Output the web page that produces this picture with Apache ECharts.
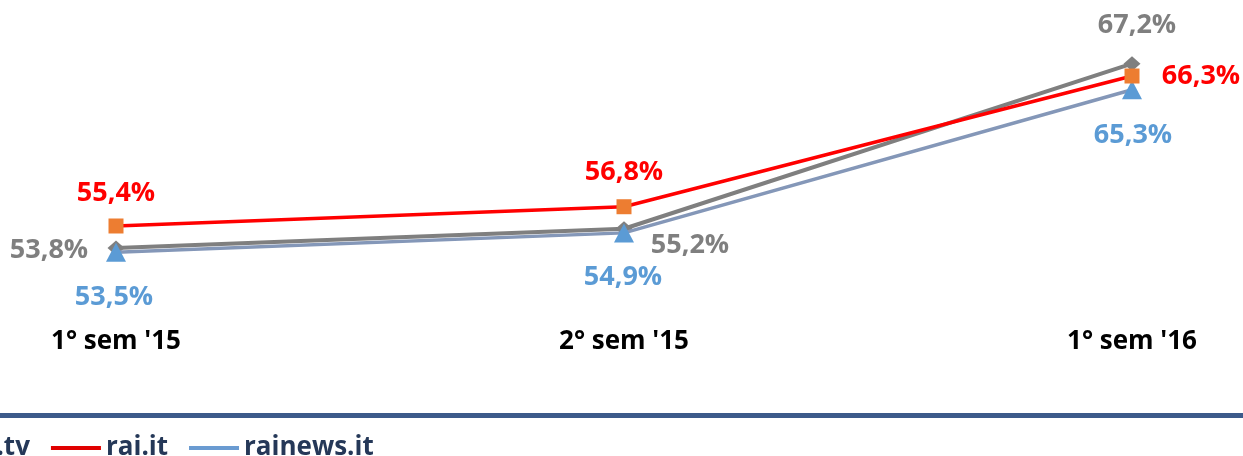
<!DOCTYPE html>
<html>
<head>
<meta charset="utf-8">
<script src="https://cdn.jsdelivr.net/npm/echarts@6/dist/echarts.min.js"></script>
<style>
  html, body { margin: 0; padding: 0; background: #ffffff; }
  #chart { width: 1243px; height: 456px; }
</style>
</head>
<body>
<div id="chart"></div>
<script>
// Semesters on the x axis
const periods = ["1° sem '15", "2° sem '15", "1° sem '16"];

// Share (%) per site and semester
const raiTv = [53.8, 55.2, 67.2];
const raiIt = [55.4, 56.8, 66.3];
const rainewsIt = [53.5, 54.9, 65.3];

// Label offsets from each marker (pixels), per point
const raiTvLabelOffset = [[-67, 2], [66, 17], [5, -38]];
const raiItLabelOffset = [[0, -33], [0, -34], [69, 0]];
const rainewsLabelOffset = [[-2, 45], [-1, 44], [1, 46]];

const FONT = 'Open Sans';

function fmt(v) {
  return v.toFixed(1).replace('.', ',') + '%';
}

function buildData(values, offsets, color) {
  return values.map((v, i) => ({
    value: v,
    label: {
      show: true,
      position: 'inside',
      offset: offsets[i],
      formatter: (p) => fmt(p.value),
      color: color,
      fontFamily: FONT,
      fontWeight: 'bold',
      fontSize: 27
    }
  }));
}

const chart = echarts.init(document.getElementById('chart'), null, { renderer: 'canvas' });

chart.setOption({
  animation: false,
  backgroundColor: '#ffffff',
  grid: { left: 116, right: 111, top: 25.1, bottom: 155.7, containLabel: false },
  xAxis: {
    type: 'category',
    data: periods,
    boundaryGap: false,
    axisLine: { show: false },
    axisTick: { show: false },
    splitLine: { show: false },
    axisLabel: {
      margin: 28,
      color: '#000000',
      fontFamily: FONT,
      fontWeight: 'bold',
      fontSize: 26
    }
  },
  yAxis: {
    type: 'value',
    min: 50,
    max: 70,
    show: false,
    splitLine: { show: false }
  },
  legend: {
    left: -99,
    top: 430,
    orient: 'horizontal',
    itemWidth: 50,
    itemHeight: 4,
    itemGap: 21,
    icon: 'rect',
    textStyle: {
      color: '#253858',
      fontFamily: FONT,
      fontWeight: 'bold',
      fontSize: 26,
      padding: [16, 0, 0, 0]
    },
    data: [
      { name: 'rai.tv', itemStyle: { color: '#7F7F7F' } },
      { name: 'rai.it', itemStyle: { color: '#E00000' } },
      { name: 'rainews.it', itemStyle: { color: '#6A9BD1' } }
    ]
  },
  graphic: [
    {
      type: 'rect',
      left: 0,
      top: 413,
      shape: { width: 1243, height: 5 },
      style: { fill: '#3C5A8A' }
    }
  ],
  series: [
    {
      name: 'rai.tv',
      type: 'line',
      z: 2,
      data: buildData(raiTv, raiTvLabelOffset, '#7F7F7F'),
      symbol: 'diamond',
      symbolSize: [17, 15],
      lineStyle: { color: '#7F7F7F', width: 4 },
      itemStyle: { color: '#7F7F7F' }
    },
    {
      name: 'rainews.it',
      type: 'line',
      z: 3,
      data: buildData(rainewsIt, rainewsLabelOffset, '#5B9BD5'),
      symbol: 'triangle',
      symbolSize: [20, 19],
      lineStyle: { color: '#8497B8', width: 3.5 },
      itemStyle: { color: '#5B9BD5' }
    },
    {
      name: 'rai.it',
      type: 'line',
      z: 4,
      data: buildData(raiIt, raiItLabelOffset, '#FF0000'),
      symbol: 'rect',
      symbolSize: 15,
      lineStyle: { color: '#FF0000', width: 3.5 },
      itemStyle: { color: '#ED7D31' }
    }
  ]
});
</script>
</body>
</html>
